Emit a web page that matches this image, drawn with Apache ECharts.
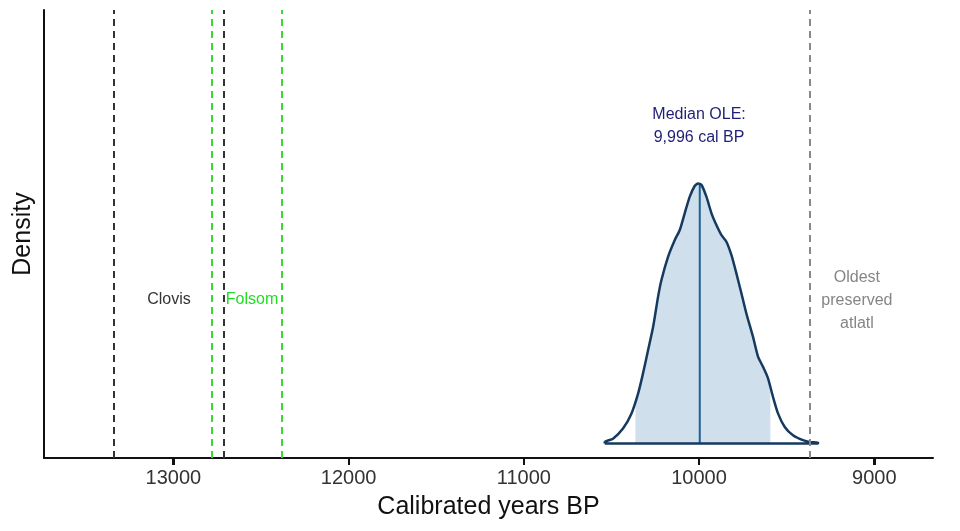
<!DOCTYPE html>
<html>
<head>
<meta charset="utf-8">
<script src="https://cdn.jsdelivr.net/npm/echarts@6/dist/echarts.min.js"></script>
<style>
  html, body { margin: 0; padding: 0; background: #fff; }
  #chart { width: 960px; height: 531px; }
</style>
</head>
<body>
<div id="chart"></div>
<script>
// density of the OLE estimate (peak scaled to 1)
const densYears = [10538, 10491, 10434, 10386, 10348, 10320, 10291, 10262, 10234, 10215, 10177, 10139, 10110, 10082, 10053, 10025, 10006,
  9986, 9958, 9929, 9901, 9872, 9844, 9815, 9787, 9758, 9730, 9692, 9663, 9635, 9606, 9578, 9549, 9511, 9464, 9407, 9368, 9321];
const densVals = [0.006, 0.019, 0.058, 0.115, 0.192, 0.269, 0.359, 0.449, 0.564, 0.628, 0.718, 0.782, 0.821, 0.885, 0.949, 0.990, 1.0,
  0.994, 0.949, 0.885, 0.840, 0.801, 0.776, 0.724, 0.654, 0.577, 0.500, 0.410, 0.333, 0.295, 0.250, 0.179, 0.115, 0.064, 0.032, 0.013, 0.006, 0.003];
// shaded interval ends and the curve height there
const shadeYears = [10363, 9593];
const shadeVals = [0.16, 0.215];
const medianYear = 9996;
const medianVal = 0.997;

const clovisLines = [13338, 12711];
const folsomLines = [12781, 12380];
const atlatlLine = 9367;

const tickLabels = [9000, 10000, 11000, 12000, 13000];

const annotations = [
  { text: 'Clovis', x: 13025, y: 0.555, color: '#333333' },
  { text: 'Folsom', x: 12551, y: 0.555, color: '#22dd22' },
  { text: 'Median OLE:\n9,996 cal BP', x: 10000, y: 1.219, color: '#1f1f78' },
  { text: 'Oldest\npreserved\natlatl', x: 9099, y: 0.551, color: '#858585' }
];

const xMin = 8665, xMax = 13738;
const yMin = -0.0554, yMax = 1.6665;
const grid = { left: 44, right: 27, top: 10, bottom: 73 };

const curve = densYears.map((y, i) => [y, densVals[i]]);
const outline = [[densYears[0], 0]].concat(curve, [[densYears[densYears.length - 1], 0], [densYears[0], 0]]);
const shade = [[shadeYears[0], shadeVals[0]]]
  .concat(curve.filter(p => p[0] < shadeYears[0] && p[0] > shadeYears[1]))
  .concat([[shadeYears[1], shadeVals[1]]]);

const chart = echarts.init(document.getElementById('chart'));
const dash = [7, 5];

chart.setOption({
  animation: false,
  textStyle: { fontFamily: 'Liberation Sans, Arial, sans-serif' },
  grid: grid,
  xAxis: {
    type: 'value',
    inverse: true,
    min: xMin,
    max: xMax,
    name: 'Calibrated years BP',
    nameLocation: 'middle',
    nameGap: 37,
    nameTextStyle: { fontSize: 25, color: '#111' },
    axisLine: { onZero: false, lineStyle: { color: '#111', width: 2 } },
    axisTick: { show: true, length: 7, customValues: tickLabels, lineStyle: { color: '#111', width: 2 } },
    axisLabel: { customValues: tickLabels, formatter: v => String(v), fontSize: 20, color: '#333', margin: 10 },
    splitLine: { show: false }
  },
  yAxis: {
    type: 'value',
    min: yMin,
    max: yMax,
    name: 'Density',
    nameLocation: 'middle',
    nameRotate: 90,
    nameGap: 8,
    nameTextStyle: { fontSize: 25, color: '#111' },
    axisLine: { show: true, onZero: false, lineStyle: { color: '#111', width: 2 } },
    axisTick: { show: false },
    axisLabel: { show: false },
    splitLine: { show: false }
  },
  series: [
    {
      type: 'line',
      data: shade,
      symbol: 'none',
      lineStyle: { width: 0 },
      areaStyle: { color: '#cfe0ec', opacity: 1 },
      z: 2
    },
    {
      type: 'line',
      data: [[medianYear, 0], [medianYear, medianVal]],
      symbol: 'none',
      lineStyle: { color: '#1f5f94', width: 2 },
      z: 3
    },
    {
      type: 'line',
      data: outline,
      symbol: 'none',
      smooth: 0.2,
      lineStyle: { color: '#163a5f', width: 2.5 },
      z: 4,
      markLine: {
        silent: true,
        symbol: 'none',
        label: { show: false },
        data: clovisLines.map(v => ({ xAxis: v, lineStyle: { color: '#333', width: 2, type: dash } }))
          .concat(folsomLines.map(v => ({ xAxis: v, lineStyle: { color: '#33dd33', width: 2, type: dash } })))
          .concat([{ xAxis: atlatlLine, lineStyle: { color: '#888', width: 2, type: dash } }])
      }
    },
    {
      type: 'scatter',
      symbolSize: 0,
      silent: true,
      itemStyle: { opacity: 1 },
      data: annotations.map(a => ({
        value: [a.x, a.y],
        label: {
          show: true,
          position: 'inside',
          formatter: a.text,
          color: a.color,
          fontSize: 16,
          lineHeight: 23,
          align: 'center',
          verticalAlign: 'middle'
        }
      })),
      z: 5
    }
  ]
});

// tick marks under the labelled years
const W = 960, H = 531;
const axisY = H - grid.bottom;
function xPix(v) {
  let p = chart.convertToPixel({ xAxisIndex: 0 }, v);
  if (Array.isArray(p)) p = p[0];
  if (typeof p !== 'number' || !isFinite(p)) {
    const w = W - grid.left - grid.right;
    p = grid.left + (xMax - v) / (xMax - xMin) * w;
  }
  return Math.round(p);
}
chart.setOption({
  graphic: {
    elements: tickLabels.map((v, i) => ({
      type: 'rect',
      id: 'tick' + i,
      silent: true,
      z: 100,
      shape: { x: xPix(v) - 1, y: axisY, width: 2, height: 7 },
      style: { fill: '#111' }
    }))
  }
});
</script>
</body>
</html>
